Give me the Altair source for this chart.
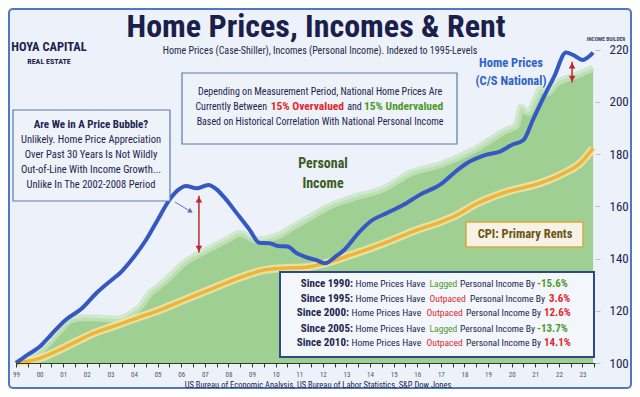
import altair as alt
import pandas as pd

# ---------------- data ----------------
hp_year = [1999.0, 1999.5, 2000.0, 2000.5, 2001.1, 2001.8, 2002.4, 2003.05, 2003.4, 2004.0,
           2004.5, 2005.0, 2005.5, 2005.9, 2006.2, 2006.65, 2007.15, 2007.5, 2007.8, 2008.35,
           2008.9, 2009.3, 2009.75, 2010.1, 2010.5, 2010.9, 2011.3, 2011.7, 2012.1, 2012.5,
           2012.9, 2013.5, 2014.0, 2014.7, 2015.4, 2016.1, 2017.0, 2017.7, 2018.1, 2018.9,
           2019.5, 2020.0, 2020.5, 2020.9, 2021.3, 2021.8, 2022.3, 2022.6, 2023.0, 2023.45]
hp_val = [100, 103.2, 106.2, 111, 116.5, 121, 126.7, 131.8, 134.4, 140.7,
          147, 154.8, 162.5, 166.5, 167.8, 166.9, 168.2, 166.5, 163.7, 157.4,
          151, 146.1, 145.9, 144.8, 144.6, 142, 140.5, 139.5, 138.2, 140.5,
          143.3, 149.7, 154.1, 157.4, 160.5, 164.4, 168.5, 173.9, 176.5, 179.7,
          181, 183.5, 185.4, 193.1, 200.8, 209.7, 218.9, 218, 216.1, 218.9]

inc_year = [1999.0, 1999.5, 2000.0, 2000.5, 2001.0, 2001.3, 2001.85, 2002.5, 2003.3, 2003.8,
            2004.25, 2004.7, 2005.0, 2005.5, 2006.1, 2006.8, 2007.5, 2008.0, 2008.5, 2009.2,
            2010.0, 2010.75, 2011.5, 2012.3, 2013.2, 2014.6, 2015.7, 2017.0, 2018.4, 2019.8,
            2020.2, 2020.4, 2020.7, 2021.0, 2021.25, 2021.5, 2021.9, 2022.6, 2023.45]
inc_val = [100, 102, 104.5, 109, 114, 116.5, 117.3, 117.2, 116.8, 118.5,
           121.5, 127, 129, 133, 138.2, 142, 145.2, 147.5, 149.7, 147.1,
           148.4, 152.2, 156.1, 160.2, 163.1, 166.9, 172.7, 176, 181.6, 189.3,
           191, 198, 196, 201, 205, 203.5, 207.2, 209.7, 212.9]

rent_year = [1999.0, 2000.0, 2001.1, 2002.3, 2003.3, 2004.25, 2005.0, 2006.1, 2007.5, 2008.6,
             2009.5, 2010.3, 2011.3, 2012.1, 2013.2, 2014.6, 2016.0, 2017.0, 2017.7, 2018.4,
             2019.8, 2021.2, 2022.2, 2022.9, 2023.45]
rent_val = [100, 101.8, 106.2, 111.4, 114.6, 117.7, 120.0, 124.1, 129.2, 133.1,
            135.6, 136.3, 136.7, 138.2, 141.4, 145.9, 151, 154.1, 156.8, 160.5,
            165.6, 168.9, 172.7, 176.5, 182.3]

y_ticks = [100, 120, 140, 160, 180, 200, 220]
x_ticks = [1999 + 0.5 * i for i in range(50)]

# gap arrows (year, top value, bottom value)
arrow_year = [2006.75, 2022.56]
arrow_top = [164.1, 215.4]
arrow_bot = [142.3, 207.4]

# ---------------- styling ----------------
FN = "Roboto Condensed, Roboto, sans-serif"
NAVY = "#1c2450"
BLUE = "#3558c4"
GOLD = "#efb43a"
GREEN = "#a0cf94"
RED = "#c0272d"
BG = "#edf1f9"

W, H = 579, 324
OX, OY = 16, 39  # page position of the plot origin

xscale = alt.Scale(domain=[1999, 2023.53], nice=False, zero=False)
yscale = alt.Scale(domain=[100, 224.1], nice=False, zero=False)

inc_df = pd.DataFrame({"year": inc_year, "val": inc_val})
hp_df = pd.DataFrame({"year": hp_year, "val": hp_val})
rent_df = pd.DataFrame({"year": rent_year, "val": rent_val})
arr_df = pd.DataFrame({"year": arrow_year, "top": arrow_top, "bot": arrow_bot})
one = pd.DataFrame({"k": [0]})

x_axis = alt.Axis(values=x_ticks, title=None, grid=False, zindex=1,
                  labelExpr="datum.value % 1 === 0 ? ((datum.value % 100) < 10 ? '0' : '') + (datum.value % 100) : ''",
                  labelFontSize=7, labelColor="#555", labelFont=FN, labelPadding=3,
                  tickSize=4, tickColor="#2d3a2a", domainColor="#2d3a2a", domainWidth=1.2,
                  labelFlush=False, labelOverlap=False)
y_axis = alt.Axis(orient="right", values=y_ticks, title=None, grid=False, domain=False, zindex=1,
                  labelFontSize=13, labelColor=NAVY, labelFont=FN, tickSize=5,
                  tickColor="#b8bfcc", labelPadding=9)

X = alt.X("year:Q", scale=xscale, axis=x_axis)
Y = alt.Y("val:Q", scale=yscale, axis=y_axis)


def px(v):
    return alt.value(v - OX)


def py(v):
    return alt.value(v - OY)


def T(text, x, y, size=10.5, color=NAVY, weight="normal", align="center", baseline="middle"):
    return alt.Chart(one).mark_text(text=text, fontSize=size, color=color, fontWeight=weight,
                                    align=align, baseline=baseline, font=FN).encode(x=px(x), y=py(y))


def box(x1, x2, y1, y2, fill, stroke, sw=1.2, r=0):
    return alt.Chart(one).mark_rect(fill=fill, stroke=stroke, strokeWidth=sw, cornerRadius=r).encode(
        x=px(x1), x2=px(x2), y=py(y1), y2=py(y2))


layers = []

# frame of the whole picture
layers.append(alt.Chart(one).mark_rect(fill=BG, stroke="#4f78c0", strokeWidth=2, cornerRadius=4).encode(
    x=alt.value(-7), x2=alt.value(W + 36), y=alt.value(-30), y2=alt.value(H + 25)))

# personal income area
layers.append(alt.Chart(inc_df).mark_area(color=GREEN, interpolate="monotone").encode(
    x=X, y=Y, y2=alt.datum(100)))
layers.append(alt.Chart(inc_df).mark_line(color="#c6e4bd", strokeWidth=7, opacity=0.75,
                                          interpolate="monotone").encode(x=X, y=Y))

# rents
layers.append(alt.Chart(rent_df).mark_line(color="#f8e6a8", strokeWidth=8, opacity=0.8,
                                           interpolate="monotone").encode(x=X, y=Y))
layers.append(alt.Chart(rent_df).mark_line(color=GOLD, strokeWidth=3.5,
                                           interpolate="monotone").encode(x=X, y=Y))

# home prices
layers.append(alt.Chart(hp_df).mark_line(color=BLUE, strokeWidth=4, strokeJoin="round",
                                         interpolate="monotone").encode(x=X, y=Y))

# red gap arrows
YT = alt.Y("top:Q", scale=yscale, axis=y_axis)
YB = alt.Y("bot:Q", scale=yscale, axis=y_axis)
layers.append(alt.Chart(arr_df).mark_rule(color=RED, strokeWidth=1.5).encode(x=X, y=YT, y2="bot:Q"))
layers.append(alt.Chart(arr_df).mark_point(shape="triangle-up", filled=True, size=45, color=RED,
                                           opacity=1, yOffset=4).encode(x=X, y=YT))
layers.append(alt.Chart(arr_df).mark_point(shape="triangle-down", filled=True, size=45, color=RED,
                                           opacity=1, yOffset=-4).encode(x=X, y=YB))

# title & logos
layers.append(T("Home Prices, Incomes & Rent", 316, 36.5, size=32, weight="bold", color="#1b1f4b",
                baseline="alphabetic"))
layers.append(T("Home Prices (Case-Shiller), Incomes (Personal Income). Indexed to 1995-Levels",
                320, 50.5, size=10, color="#222a45"))
layers.append(T("HOYA CAPITAL", 49, 47, size=12.5, weight="bold", color="#1b1f4b"))
layers.append(T("REAL ESTATE", 49, 62, size=8, weight="bold", color="#1b1f4b"))
layers.append(T("INCOME BUILDER", 606, 39, size=5.5, weight="bold", color="#3a4a6a"))

# series labels
layers.append(T("Home Prices", 511, 63, size=12.5, weight="bold", color="#2f62c9"))
layers.append(T("(C/S National)", 511, 81, size=12.5, weight="bold", color="#2f62c9"))
layers.append(T("Personal", 323, 164, size=14, weight="bold", color="#3c5a23"))
layers.append(T("Income", 323, 184, size=14, weight="bold", color="#3c5a23"))
layers.append(box(466, 583, 222, 247, "#f6f3e6", "#d9a93c", 1.5))
layers.append(T("CPI: Primary Rents", 525, 234, size=12.5, weight="bold", color="#6b5416"))

# left box
layers.append(box(13, 170, 110, 201, "#eef2f9", "#5a7bb0", 1.2))
layers.append(T("Are We in A Price Bubble?", 91, 124.5, size=11, weight="bold"))
layers.append(T("Unlikely. Home Price Appreciation", 91, 140, size=10.5))
layers.append(T("Over Past 30 Years Is Not Wildly", 91, 155, size=10.5))
layers.append(T("Out-of-Line With Income Growth...", 91, 170, size=10.5))
layers.append(T("Unlike In The 2002-2008 Period", 91, 185, size=10.5))

# pointer arrow from the box
layers.append(alt.Chart(one).mark_rule(color="#5c74b0", strokeWidth=1).encode(
    x=px(175), x2=px(189), y=py(202), y2=py(210.5)))
layers.append(alt.Chart(one).mark_point(shape="triangle", filled=True, size=30, color="#5c74b0",
                                        opacity=1, angle=121).encode(x=px(190), y=py(211)))

# centre box
layers.append(box(182, 457, 73, 144, "#eef2f9", "#5a7bb0", 1.2))
layers.append(T("Depending on Measurement Period, National Home Prices Are", 320, 92, size=10))
layers.append(T("Currently Between", 267, 107, size=10, align="right"))
layers.append(T("15% Overvalued", 344, 107, size=11.5, weight="bold", color="#e0282e", align="right"))
layers.append(T("and", 354.5, 107, size=10))
layers.append(T("15% Undervalued", 364, 107, size=11.5, weight="bold", color="#4c9a2a", align="left"))
layers.append(T("Based on Historical Correlation With National Personal Income", 320, 122, size=10))

# bottom-right box
layers.append(box(280, 594, 272, 357, "#f3f6fb", "#2c4a8a", 2))
GR = "#4c9a2a"
RD = "#e0282e"
since_rows = [
    ("Since 1990:", 353, "Lagged", GR, 428, 535, "-15.6%", 536, 284),
    ("Since 1995:", 353, "Outpaced", RD, 428, 545, "3.6%", 548, 298.5),
    ("Since 2000:", 349, "Outpaced", RD, 425, 541, "12.6%", 543, 313.3),
    ("Since 2005:", 353, "Lagged", GR, 428, 535, "-13.7%", 536, 328.5),
    ("Since 2010:", 349, "Outpaced", RD, 425, 541, "14.1%", 543, 343.3),
]
for lab, lab_end, word, wcol, wx, pib_end, pct, pct_x, yy in since_rows:
    layers.append(T(lab, lab_end, yy, size=11, weight="bold", align="right"))
    layers.append(T("Home Prices Have", lab_end + 2.5, yy, size=9.6, align="left"))
    layers.append(T(word, wx + 1.5, yy, size=9.6, color=wcol, align="left"))
    layers.append(T("Personal Income By", pib_end, yy, size=9.6, align="right"))
    layers.append(T(pct, pct_x + 1, yy, size=11, weight="bold", color=wcol, align="left"))

# source
layers.append(T("US Bureau of Economic Analysis, US Bureau of Labor Statistics, S&P Dow Jones",
                318, 384.5, size=8.5, color="#1c2450"))

chart = alt.layer(*layers).properties(
    width=W, height=H,
    autosize=alt.AutoSizeParams(type="none"),
    padding={"left": 8, "top": 31, "right": 37, "bottom": 26},
    background=BG,
).configure_view(stroke=None)

chart.save("out.html", embed_options={"renderer": "svg", "actions": False})
